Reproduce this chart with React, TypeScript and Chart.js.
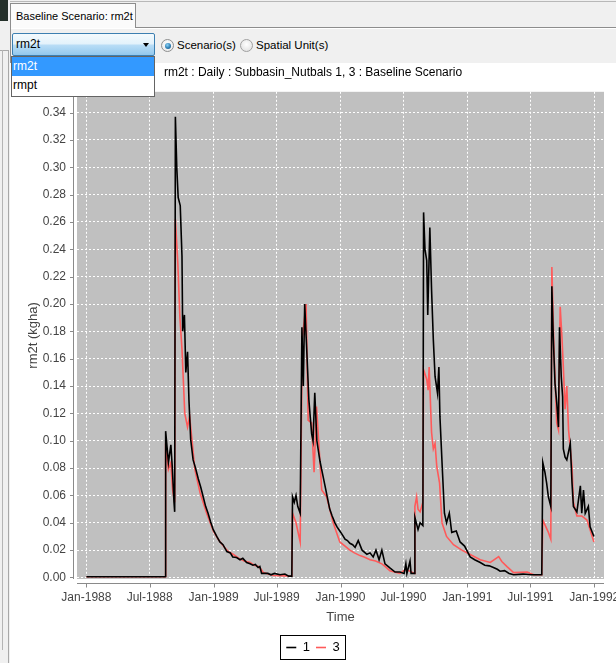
import React, { useEffect, useRef } from 'react';
import { Chart, registerables } from 'chart.js';

Chart.register(...registerables);

const FONT = "'Liberation Sans', Arial, sans-serif";

const TAB_TEXT = 'Baseline Scenario: rm2t';
const COMBO_VALUE = 'rm2t';
const COMBO_ITEMS = ['rm2t', 'rmpt'];
const RADIO_LABELS = ['Scenario(s)', 'Spatial Unit(s)'];

const TITLE = 'rm2t : Daily : Subbasin_Nutbals 1, 3 : Baseline Scenario';
const X_LABEL = 'Time';
const Y_LABEL = 'rm2t (kgha)';
const SERIES_NAMES = ['1', '3'];
const SERIES_COLORS = ['#000000', '#ff5a5a'];

const MONTHS = ['Jan', 'Feb', 'Mar', 'Apr', 'May', 'Jun', 'Jul', 'Aug', 'Sep', 'Oct', 'Nov', 'Dec'];
const X_TICK_DATES = [
  '1988-01-01', '1988-07-01', '1989-01-01', '1989-07-01', '1990-01-01',
  '1990-07-01', '1991-01-01', '1991-07-01', '1992-01-01',
];
const Y_TICKS = [0, 0.02, 0.04, 0.06, 0.08, 0.1, 0.12, 0.14, 0.16, 0.18, 0.2, 0.22, 0.24, 0.26, 0.28, 0.3, 0.32, 0.34];
const X_RANGE = ['1987-12-05', '1992-01-29'];
const Y_RANGE = [-0.0011, 0.3552];

// Series "1" (black)
const S1_DATES = [
  '1988-01-01', '1988-08-15', '1988-08-16', '1988-08-24', '1988-08-31', '1988-09-04', '1988-09-09', '1988-09-11',
  '1988-09-13', '1988-09-17', '1988-09-21', '1988-09-27', '1988-10-02', '1988-10-04', '1988-10-09', '1988-10-13',
  '1988-10-18', '1988-10-22', '1988-10-27', '1988-11-03', '1988-11-10', '1988-11-18', '1988-11-25', '1988-12-02',
  '1988-12-09', '1988-12-16', '1988-12-23', '1988-12-31',
  '1989-01-10', '1989-01-19', '1989-01-28', '1989-02-08', '1989-02-18', '1989-02-25', '1989-03-08', '1989-03-18',
  '1989-03-26', '1989-04-06', '1989-04-16', '1989-04-24', '1989-05-01', '1989-05-09', '1989-05-14', '1989-05-19',
  '1989-06-06', '1989-06-15', '1989-06-25', '1989-07-11', '1989-07-25', '1989-08-05',
  '1989-08-14', '1989-08-16', '1989-08-21', '1989-08-26', '1989-08-31', '1989-09-07', '1989-09-12', '1989-09-16',
  '1989-09-20', '1989-09-27', '1989-10-02', '1989-10-10', '1989-10-14', '1989-10-19', '1989-10-25', '1989-11-03',
  '1989-11-11', '1989-11-23', '1989-12-01', '1989-12-08', '1989-12-16', '1989-12-22', '1989-12-30', '1990-01-07',
  '1990-01-14', '1990-01-21', '1990-01-28', '1990-02-05', '1990-02-12',
  '1990-02-21', '1990-03-04', '1990-03-18', '1990-03-27', '1990-04-05', '1990-04-13', '1990-04-22', '1990-04-30',
  '1990-05-09', '1990-05-23', '1990-06-07', '1990-06-21', '1990-07-03', '1990-07-08', '1990-07-11', '1990-07-20',
  '1990-07-23', '1990-08-02', '1990-08-03', '1990-08-12', '1990-08-18', '1990-08-26', '1990-08-28', '1990-09-01',
  '1990-09-06', '1990-09-09', '1990-09-15', '1990-09-20', '1990-09-25', '1990-09-30', '1990-10-07', '1990-10-11',
  '1990-10-14', '1990-10-21', '1990-10-27', '1990-11-02', '1990-11-10', '1990-11-17', '1990-11-30', '1990-12-11',
  '1990-12-24', '1991-01-09', '1991-01-22', '1991-02-07', '1991-02-20', '1991-03-05', '1991-03-17', '1991-03-28',
  '1991-04-05', '1991-04-18', '1991-05-01', '1991-05-14', '1991-06-10', '1991-07-05', '1991-08-03', '1991-08-06',
  '1991-08-12', '1991-08-17', '1991-08-22', '1991-08-29', '1991-09-01', '1991-09-05', '1991-09-10', '1991-09-15',
  '1991-09-20', '1991-09-23', '1991-09-28', '1991-10-02', '1991-10-04', '1991-10-09', '1991-10-14', '1991-10-24',
  '1991-10-29', '1991-11-02', '1991-11-12', '1991-11-22', '1991-11-26', '1991-12-01', '1991-12-06', '1991-12-15',
  '1991-12-20', '1991-12-31',
];
const S1_VALUES = [
  0.0005, 0.0005, 0.107, 0.084, 0.097, 0.081, 0.055, 0.048,
  0.337, 0.3, 0.278, 0.272, 0.235, 0.18, 0.192, 0.15,
  0.165, 0.13, 0.101, 0.086, 0.08, 0.072, 0.066, 0.059,
  0.052, 0.047, 0.041, 0.035,
  0.03, 0.026, 0.024, 0.019, 0.018, 0.015, 0.0146, 0.013,
  0.014, 0.011, 0.01, 0.009, 0.0095, 0.0073, 0.008, 0.003,
  0.003, 0.002, 0.003, 0.002, 0.0025, 0.001,
  0.001, 0.059, 0.055, 0.06, 0.052, 0.047, 0.183, 0.14,
  0.2, 0.16, 0.13, 0.105, 0.1, 0.135, 0.1, 0.085,
  0.075, 0.06, 0.05, 0.045, 0.04, 0.037, 0.034, 0.031,
  0.028, 0.027, 0.025, 0.024, 0.022,
  0.027, 0.02, 0.017, 0.018, 0.015, 0.02, 0.013, 0.02,
  0.01, 0.007, 0.004, 0.004, 0.003, 0.01, 0.003, 0.012,
  0.003, 0.003, 0.044, 0.035, 0.04, 0.038, 0.267, 0.24,
  0.232, 0.192, 0.256, 0.21, 0.174, 0.147, 0.135, 0.154,
  0.118, 0.079, 0.047, 0.04, 0.047, 0.033, 0.034, 0.026,
  0.023, 0.015, 0.013, 0.011, 0.009, 0.0085, 0.0073, 0.006,
  0.0046, 0.005, 0.003, 0.002, 0.0025, 0.002, 0.002, 0.084,
  0.077, 0.069, 0.059, 0.052, 0.213, 0.176, 0.142, 0.128,
  0.11, 0.183, 0.147, 0.132, 0.094, 0.088, 0.086, 0.098,
  0.069, 0.052, 0.048, 0.067, 0.047, 0.064, 0.047, 0.052,
  0.037, 0.03,
];

// Series "3" (red)
const S3_DATES = [
  '1988-01-01', '1988-08-15', '1988-08-16', '1988-08-24', '1988-08-31', '1988-09-05', '1988-09-11', '1988-09-13',
  '1988-09-20', '1988-09-26', '1988-10-02', '1988-10-10', '1988-10-18', '1988-10-24', '1988-10-31', '1988-11-08',
  '1988-11-23', '1988-12-12', '1988-12-31', '1989-01-14', '1989-01-29', '1989-02-12', '1989-02-27', '1989-03-15',
  '1989-03-30', '1989-04-16', '1989-04-28', '1989-05-10', '1989-05-16', '1989-05-24',
  '1989-06-22', '1989-08-14', '1989-08-16', '1989-08-26', '1989-09-07', '1989-09-13', '1989-09-24', '1989-09-30',
  '1989-10-10', '1989-10-17', '1989-10-24', '1989-11-08', '1989-11-22', '1989-12-11', '1989-12-30', '1990-01-14',
  '1990-01-28', '1990-02-10', '1990-02-26', '1990-03-10', '1990-03-27', '1990-04-12', '1990-04-30', '1990-05-10',
  '1990-05-23', '1990-06-21', '1990-07-08', '1990-08-02', '1990-08-03',
  '1990-08-08', '1990-08-12', '1990-08-18', '1990-08-26', '1990-08-28', '1990-09-06', '1990-09-10', '1990-09-13',
  '1990-09-20', '1990-09-25', '1990-09-30', '1990-10-05', '1990-10-13', '1990-10-20', '1990-11-02', '1990-11-22',
  '1990-12-16', '1991-01-09', '1991-02-07', '1991-03-08', '1991-04-01', '1991-04-10', '1991-04-25', '1991-05-14',
  '1991-06-22', '1991-07-11', '1991-08-03', '1991-08-06', '1991-08-22', '1991-08-29', '1991-09-01', '1991-09-07',
  '1991-09-15', '1991-09-20', '1991-09-25', '1991-09-30', '1991-10-04', '1991-10-09', '1991-10-14', '1991-10-19',
  '1991-10-29', '1991-11-02', '1991-11-12', '1991-11-26', '1991-12-11', '1991-12-20', '1991-12-31',
];
const S3_VALUES = [
  0.0005, 0.0005, 0.098, 0.079, 0.084, 0.064, 0.055, 0.262,
  0.23, 0.19, 0.167, 0.12, 0.11, 0.118, 0.1, 0.079,
  0.062, 0.047, 0.034, 0.028, 0.023, 0.019, 0.0168, 0.014,
  0.012, 0.011, 0.009, 0.008, 0.0065, 0.0036,
  0.0015, 0.001, 0.047, 0.04, 0.026, 0.175, 0.2, 0.115,
  0.113, 0.077, 0.125, 0.064, 0.059, 0.04, 0.026, 0.023,
  0.02, 0.018, 0.016, 0.015, 0.013, 0.012, 0.01, 0.008,
  0.005, 0.003, 0.006, 0.003, 0.052,
  0.059, 0.05, 0.048, 0.055, 0.152, 0.145, 0.137, 0.154,
  0.106, 0.094, 0.098, 0.081, 0.069, 0.04, 0.03, 0.024,
  0.02, 0.0168, 0.013, 0.011, 0.0153, 0.0117, 0.008, 0.0036,
  0.004, 0.002, 0.002, 0.042, 0.033, 0.028, 0.227, 0.167,
  0.113, 0.108, 0.198, 0.176, 0.154, 0.123, 0.14, 0.108,
  0.081, 0.055, 0.045, 0.045, 0.042, 0.035, 0.026,
];

const PLOT_BG = '#c0c0c0';
const AXIS_COLOR = '#8a8a8a';
const TICK_TEXT = '#444444';

const fmtMonth = (v: number) => {
  const d = new Date(v);
  return `${MONTHS[d.getUTCMonth()]}-${d.getUTCFullYear()}`;
};

const toPoints = (dates: string[], values: number[]) =>
  dates.map((d, i) => ({ x: Date.parse(d), y: values[i] }));

const jfreePlugin = {
  id: 'jfreeLook',
  beforeDraw(chart: any) {
    const { ctx, chartArea: a } = chart;
    ctx.save();
    ctx.fillStyle = PLOT_BG;
    ctx.fillRect(a.left, a.top, a.right - a.left, a.bottom - a.top);
    ctx.restore();
  },
  afterDraw(chart: any) {
    const { ctx, chartArea: a, scales } = chart;
    ctx.save();
    ctx.strokeStyle = AXIS_COLOR;
    ctx.lineWidth = 1;
    ctx.beginPath();
    const ax = Math.round(a.left) - 4 + 0.5;
    ctx.moveTo(ax, a.top);
    ctx.lineTo(ax, a.bottom);
    scales.y.ticks.forEach((t: any) => {
      const py = Math.round(scales.y.getPixelForValue(t.value)) + 0.5;
      ctx.moveTo(ax - 3.5, py);
      ctx.lineTo(ax, py);
    });
    const ay = Math.round(a.bottom) + 4 + 0.5;
    ctx.moveTo(a.left, ay);
    ctx.lineTo(a.right, ay);
    scales.x.ticks.forEach((t: any) => {
      const px = Math.round(scales.x.getPixelForValue(t.value)) + 0.5;
      ctx.moveTo(px, ay);
      ctx.lineTo(px, ay + 4);
    });
    ctx.stroke();
    // legend frame
    const hb = chart.legend && chart.legend.legendHitBoxes;
    if (hb && hb.length) {
      const first = hb[0];
      const last = hb[hb.length - 1];
      const x0 = Math.round(first.left - 6) + 0.5;
      const x1 = Math.round(last.left + last.width + 5) + 0.5;
      const y0 = Math.round(first.top - 6) + 0.5;
      const y1 = Math.round(first.top + first.height + 5) + 0.5;
      ctx.strokeStyle = '#000';
      ctx.strokeRect(x0, y0, x1 - x0, y1 - y0);
    }
    ctx.restore();
  },
};

export default function App() {
  const ref = useRef<HTMLCanvasElement>(null);

  useEffect(() => {
    if (!ref.current) return;
    const chart = new Chart(ref.current, {
      type: 'line',
      data: {
        datasets: [
          {
            label: SERIES_NAMES[0],
            data: toPoints(S1_DATES, S1_VALUES),
            borderColor: SERIES_COLORS[0],
            backgroundColor: SERIES_COLORS[0],
            borderWidth: 1.6,
            pointRadius: 0,
            tension: 0,
            fill: false,
          },
          {
            label: SERIES_NAMES[1],
            data: toPoints(S3_DATES, S3_VALUES),
            borderColor: SERIES_COLORS[1],
            backgroundColor: SERIES_COLORS[1],
            borderWidth: 1.6,
            pointRadius: 0,
            tension: 0,
            fill: false,
          },
        ],
      },
      options: {
        responsive: false,
        animation: false,
        events: [],
        layout: { padding: 0 },
        scales: {
          x: {
            type: 'linear',
            min: Date.parse(X_RANGE[0]),
            max: Date.parse(X_RANGE[1]),
            afterBuildTicks: (s: any) => {
              s.ticks = X_TICK_DATES.map((d) => ({ value: Date.parse(d) }));
            },
            afterFit: (s: any) => {
              s.height = 56;
              s.paddingLeft = 0;
              s.paddingRight = 0;
            },
            grid: { color: '#ffffff', lineWidth: 1, drawTicks: false },
            border: { display: false, dash: [2, 2] },
            ticks: {
              padding: 11,
              autoSkip: false,
              maxRotation: 0,
              color: TICK_TEXT,
              font: { family: FONT, size: 12 },
              callback: (v: any) => fmtMonth(Number(v)),
            },
            title: {
              display: true,
              text: X_LABEL,
              color: TICK_TEXT,
              font: { family: FONT, size: 13 },
              padding: { top: 0, bottom: 10 },
            },
          },
          y: {
            type: 'linear',
            min: Y_RANGE[0],
            max: Y_RANGE[1],
            afterBuildTicks: (s: any) => {
              s.ticks = Y_TICKS.map((v) => ({ value: v }));
            },
            afterFit: (s: any) => {
              s.width = 67;
              s.paddingTop = 0;
              s.paddingBottom = 0;
            },
            grid: { color: '#ffffff', lineWidth: 1, drawTicks: false },
            border: { display: false, dash: [2, 2] },
            ticks: {
              padding: 11,
              color: TICK_TEXT,
              font: { family: FONT, size: 12 },
              callback: (v: any) => Number(v).toFixed(2),
            },
            title: {
              display: true,
              text: Y_LABEL,
              color: TICK_TEXT,
              font: { family: FONT, size: 13 },
              padding: { top: 16, bottom: 0 },
            },
          },
          y2: {
            type: 'linear',
            position: 'right',
            display: true,
            grid: { display: false, drawTicks: false },
            border: { display: false },
            ticks: { display: false },
            afterFit: (s: any) => {
              s.width = 12;
              s.paddingTop = 0;
              s.paddingBottom = 0;
            },
          },
        },
        plugins: {
          title: {
            display: true,
            text: TITLE,
            color: '#000000',
            font: { family: FONT, size: 12, weight: 'normal' },
            padding: { top: 2, bottom: 12.4 },
          },
          legend: {
            display: true,
            position: 'bottom',
            labels: {
              usePointStyle: true,
              pointStyle: 'line',
              pointStyleWidth: 10,
              boxWidth: 10,
              padding: 6,
              color: '#000000',
              font: { family: FONT, size: 13 },
            },
          },
          tooltip: { enabled: false },
        },
      },
      plugins: [jfreePlugin],
    } as any);
    return () => chart.destroy();
  }, []);

  const abs = (s: React.CSSProperties): React.CSSProperties => ({ position: 'absolute', ...s });

  return (
    <div
      style={{
        position: 'fixed',
        left: 0,
        top: 0,
        width: 616,
        height: 663,
        overflow: 'hidden',
        background: '#f0f0f0',
        fontFamily: FONT,
        color: '#000',
      }}
    >
      {/* left strip */}
      <div style={abs({ left: 0, top: 0, width: 8, height: 21, background: '#24302a' })} />
      <div style={abs({ left: 0, top: 50, width: 8, height: 1, background: '#a8a8a8' })} />
      <div style={abs({ left: 2, top: 50, width: 1, height: 600, background: '#b4b4b4' })} />
      <div style={abs({ left: 8, top: 50, width: 1, height: 613, background: '#a8a8a8' })} />
      {/* tab strip lines */}
      <div style={abs({ left: 10, top: 1, width: 606, height: 1, background: '#b8b8b8' })} />
      <div style={abs({ left: 10, top: 27, width: 606, height: 1, background: '#8d8d8d' })} />
      {/* tab */}
      <div
        style={abs({
          left: 10,
          top: 3,
          width: 126,
          height: 26,
          boxSizing: 'border-box',
          border: '1px solid #8d8d8d',
          borderBottom: 'none',
          background: '#fbfbfb',
          fontSize: 11,
          lineHeight: '24px',
          paddingLeft: 5,
          whiteSpace: 'nowrap',
          overflow: 'hidden',
        })}
      >
        {TAB_TEXT}
      </div>
      {/* panel border */}
      <div style={abs({ left: 10, top: 28, width: 1, height: 635, background: '#8d8d8d' })} />
      <div style={abs({ left: 11, top: 28, width: 605, height: 1, background: '#ffffff' })} />
      {/* combobox */}
      <div
        style={abs({
          left: 12,
          top: 33,
          width: 143,
          height: 23,
          boxSizing: 'border-box',
          border: '1px solid #3c7fb1',
          borderRadius: 2,
          background: 'linear-gradient(to bottom, #f4fafd 0%, #e3f2fb 47%, #b9ddf6 53%, #92c8ee 100%)',
          fontSize: 12,
          lineHeight: '21px',
          paddingLeft: 3,
        })}
      >
        {COMBO_VALUE}
        <div
          style={abs({
            left: 130,
            top: 9,
            width: 0,
            height: 0,
            borderLeft: '3.5px solid transparent',
            borderRight: '3.5px solid transparent',
            borderTop: '4px solid #000',
          })}
        />
      </div>
      {/* radios */}
      <div
        style={abs({
          left: 161,
          top: 39,
          width: 13,
          height: 13,
          boxSizing: 'border-box',
          borderRadius: '50%',
          border: '1px solid #8e8f8f',
          background: 'radial-gradient(circle at 50% 40%, #ffffff 0%, #e4e4e4 100%)',
        })}
      >
        <div
          style={abs({
            left: 2.5,
            top: 2.5,
            width: 6,
            height: 6,
            borderRadius: '50%',
            background: 'radial-gradient(circle at 40% 35%, #8fd3f5 0%, #2d7fb5 55%, #1a4f78 100%)',
          })}
        />
      </div>
      <div style={abs({ left: 177, top: 38, fontSize: 11.5, lineHeight: '14px', whiteSpace: 'nowrap' })}>
        {RADIO_LABELS[0]}
      </div>
      <div
        style={abs({
          left: 240,
          top: 39,
          width: 13,
          height: 13,
          boxSizing: 'border-box',
          borderRadius: '50%',
          border: '1px solid #a0a0a0',
          background: 'radial-gradient(circle at 50% 40%, #ffffff 0%, #dcdcdc 100%)',
        })}
      />
      <div style={abs({ left: 256, top: 38, fontSize: 11.5, lineHeight: '14px', whiteSpace: 'nowrap' })}>
        {RADIO_LABELS[1]}
      </div>
      {/* chart panel */}
      <div style={abs({ left: 10, top: 63, width: 606, height: 601, background: '#ffffff' })}>
        <canvas ref={ref} width={606} height={601} style={{ display: 'block', width: 606, height: 601 }} />
      </div>
      {/* dropdown list (popup over chart) */}
      <div
        style={abs({
          left: 11,
          top: 56,
          width: 144,
          height: 41,
          boxSizing: 'border-box',
          border: '1px solid #646464',
          background: '#ffffff',
          zIndex: 5,
          fontSize: 12,
        })}
      >
        {COMBO_ITEMS.map((it) => (
          <div
            key={it}
            style={{
              height: 19,
              lineHeight: '19px',
              paddingLeft: 1,
              background: it === COMBO_VALUE ? '#3399ff' : 'transparent',
              color: it === COMBO_VALUE ? '#ffffff' : '#000000',
            }}
          >
            {it}
          </div>
        ))}
      </div>
    </div>
  );
}
